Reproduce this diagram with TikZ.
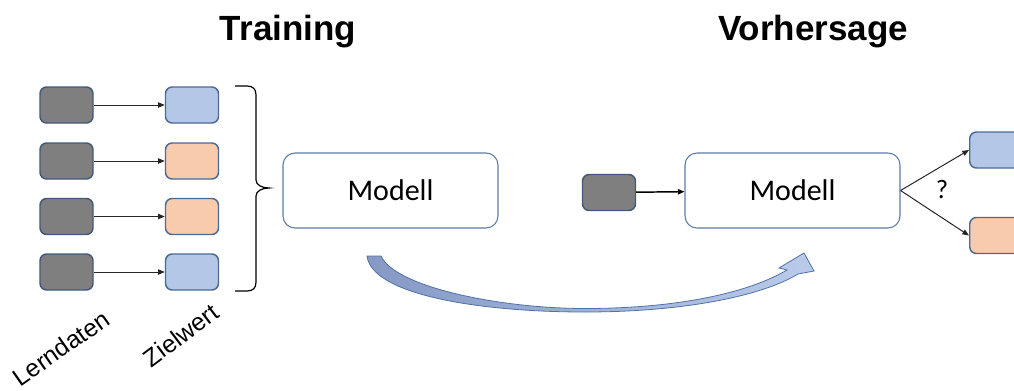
\documentclass[tikz,border=0pt]{standalone}
\usepackage{fontspec}
\setmainfont{Liberation Sans}
\newfontfamily\calfont{Carlito}
\usetikzlibrary{arrows.meta}
\definecolor{darkfill}{HTML}{7F7F7F}
\definecolor{darkedge}{HTML}{42597A}
\definecolor{bluefill}{HTML}{B4C7E7}
\definecolor{orangefill}{HTML}{F8CBAD}
\definecolor{boxedge}{HTML}{4C6A96}
\definecolor{modedge}{HTML}{5B7BA6}
\definecolor{arcdark}{HTML}{8599C4}
\definecolor{arclight}{HTML}{BACBEA}
\definecolor{arcedge}{HTML}{4F71A8}
\tikzset{
  sbox/.style={rectangle, rounded corners=5pt, line width=1.1pt, minimum width=39.75pt, minimum height=27pt, inner sep=0pt},
  dbox/.style={sbox, fill=darkfill, draw=darkedge},
  bbox/.style={sbox, fill=bluefill, draw=boxedge},
  obox/.style={sbox, fill=orangefill, draw=boxedge},
  modbox/.style={rectangle, rounded corners=9pt, draw=modedge, line width=0.8pt, fill=white, minimum width=161.25pt, minimum height=56.25pt, inner sep=0pt, font=\calfont\fontsize{22.5}{25}\selectfont},
  conn/.style={-{Triangle[length=5pt,width=4pt]}, line width=0.75pt, black!85},
  title/.style={font=\bfseries\fontsize{26.25}{30}\selectfont, anchor=base},
  rlabel/.style={font=\fontsize{18.5}{21}\selectfont}
}
\begin{document}
\begin{tikzpicture}[x=0.75pt,y=-0.75pt]
\clip (0,0) rectangle (1014,390);
\useasboundingbox (0,0) rectangle (1014,390);
% titles
\node[title] (ttrain) at (288,40.5) {Training};
\node[title] (tpred) at (813,40.5) {Vorhersage};
% training data
\node[dbox] (d1) at (66.5,105) {};
\node[dbox] (d2) at (66.5,161) {};
\node[dbox] (d3) at (66.5,216.5) {};
\node[dbox] (d4) at (66.5,272) {};
\node[bbox] (t1) at (192,105) {};
\node[obox] (t2) at (192,161) {};
\node[obox] (t3) at (192,216.5) {};
\node[bbox] (t4) at (192,272) {};
\foreach \i in {1,2,3,4} {\draw[conn] (d\i) -- (t\i);}
% brace
\draw[line width=0.9pt, black] (235,86) -- (247,86) .. controls (253,86) and (256,89) .. (256,95) -- (256,180) .. controls (256,185) and (262,188) .. (269,188) .. controls (262,188) and (256,191) .. (256,196) -- (256,282) .. controls (256,288) and (253,291) .. (247,291) -- (235,291);
% labels
\node[rlabel, rotate=35] (lern) at (61,348) {Lerndaten};
\node[rlabel, rotate=37] (ziel) at (181,335) {Zielwert};
% training model
\node[modbox] (m1) at (390.5,190.5) {Modell};
% prediction
\node[dbox] (din) at (609,192.5) {};
\node[modbox] (m2) at (792.5,190.5) {Modell};
\draw[conn, line width=1.1pt, black] (din) -- (m2);
\node[bbox, anchor=west] (o1) at (969,150) {};
\node[obox, anchor=west] (o2) at (969,235.5) {};
\draw[conn] (m2.east) -- (o1.west);
\draw[conn] (m2.east) -- (o2.west);
\node[font=\calfont\fontsize{20}{22}\selectfont] (q) at (942,189) {?};
% curved transfer arrow
\path[draw=arcedge, line width=0.6pt, left color=arcdark, right color=arclight]
  (367,256) -- (381,256)
  .. controls (395,287) and (500,308.5) .. (585,308.5)
  .. controls (680,308.5) and (750,292) .. (787,270)
  -- (779,268) -- (804,253) -- (814,271) -- (798,274)
  .. controls (760,297) and (680,312) .. (585,312)
  .. controls (480,312) and (372,295) .. (367,256) -- cycle;
\end{tikzpicture}
\end{document}
